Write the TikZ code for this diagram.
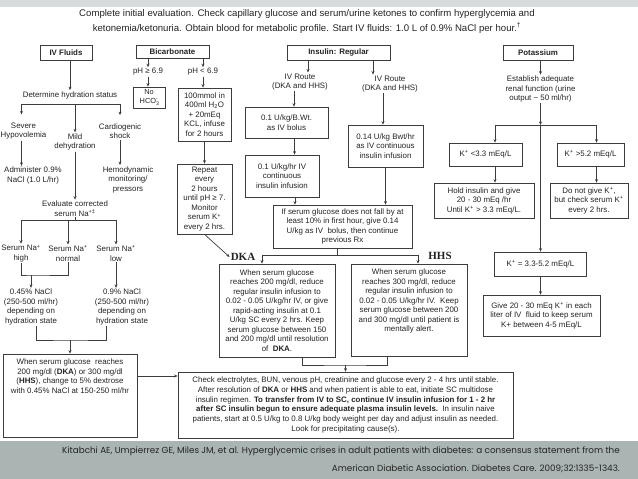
\documentclass[tikz,border=0pt]{standalone}
\usepackage{fontspec}
\setmainfont{Liberation Sans}
\newfontfamily\labfont{Liberation Serif}
\newfontfamily\citefont{Poppins}
\usetikzlibrary{arrows.meta, positioning}
\definecolor{linec}{RGB}{60,60,60}
\definecolor{bandc}{RGB}{170,181,179}
\definecolor{topc}{RGB}{214,220,219}
\definecolor{textc}{RGB}{35,35,35}

\begin{document}
\begin{tikzpicture}[x=1pt, y=-1pt,
    every node/.style={text=textc, font=\fontsize{7.9}{9.5}\selectfont, align=center, inner sep=1pt},
    box/.style={draw=linec, line width=0.7pt, inner sep=2pt},
    head/.style={box, font=\bfseries\fontsize{7.9}{9.5}\selectfont, minimum height=15pt},
    arr/.style={draw=linec, line width=0.7pt, -{Stealth[length=3.5pt, width=3pt]}},
    ln/.style={draw=linec, line width=0.7pt},
    lab/.style={font=\labfont\bfseries\fontsize{11}{12}\selectfont}]
        % background and page size
        \fill[topc] (0,0) rectangle (638,7);
        \fill[bandc] (0,441) rectangle (638,479);
        \useasboundingbox (0,0) rectangle (638,479);

        % title
        \node[font=\fontsize{9.6}{15}\selectfont] (title) at (307,21.5) {Complete initial evaluation. Check capillary glucose and serum/urine ketones to confirm hyperglycemia and\\ketonemia/ketonuria. Obtain blood for metabolic profile. Start IV fluids: 1.0 L of 0.9\% NaCl per hour.\textsuperscript{\dag}};

        % column heads
        \node[head, minimum width=52pt] (ivf) at (66,52.5) {IV Fluids};
        \node[head, minimum width=73pt, minimum height=13pt] (bicarb) at (172.5,51.5) {Bicarbonate};
        \node[head, minimum width=103pt] (insulin) at (338.5,52.5) {Insulin: Regular};
        \node[head, minimum width=70pt] (potas) at (538,53) {Potassium};

        % IV fluids column
        \node (hydr) at (70,95) {Determine hydration status};
        \node (severe) at (23.5,131) {Severe\\Hypovolemia};
        \node (mild) at (75,142) {Mild\\dehydration};
        \node (cardio) at (120,131) {Cardiogenic\\shock};
        \node (admin) at (33,175.5) {Administer 0.9\%\\NaCl (1.0 L/hr)};
        \node (hemo) at (128,179.5) {Hemodynamic\\monitoring/\\pressors};
        \node (evalna) at (75,208.5) {Evaluate corrected\\serum Na\textsuperscript{+\ddag}};
        \node (nahigh) at (21,253.5) {Serum Na\textsuperscript{+}\\high};
        \node (nanorm) at (68,253.5) {Serum Na\textsuperscript{+}\\normal};
        \node (nalow) at (116,253.5) {Serum Na\textsuperscript{+}\\low};
        \node (nacl45) at (31,307) {0.45\% NaCl\\(250-500 ml/hr)\\depending on\\hydration state};
        \node (nacl9) at (122,307) {0.9\% NaCl\\(250-500 ml/hr)\\depending on\\hydration state};
        \node[box, minimum width=134pt, minimum height=83pt, inner sep=0pt] (dex) at (70,395.5) {\parbox[t][79pt][t]{130pt}{\centering\vspace*{3pt}When serum glucose\ \ reaches\\200 mg/dl (\textbf{DKA}) or 300 mg/dl\\(\textbf{HHS}), change to 5\% dextrose\\with 0.45\% NaCl at 150-250 ml/hr}};

        % bicarbonate column
        \node (ph1) at (148,72) {pH ≥ 6.9};
        \node (ph2) at (203,72) {pH < 6.9};
        \node[box, minimum width=32pt, minimum height=21pt, inner sep=0pt, font=\fontsize{7.4}{9}\selectfont] (nohco) at (149,97.5) {No\\HCO\rlap{\textsubscript{3}}\textsuperscript{-}};
        \node[box, minimum width=53pt, minimum height=53pt] (kcl) at (204.5,114.5) {100mmol in\\400ml H\textsubscript{2}O\\+ 20mEq\\KCL, infuse\\for 2 hours};
        \node[box, minimum width=55pt, minimum height=70pt] (repeat) at (204.5,199) {Repeat\\every\\2 hours\\until pH ≥ 7.\\Monitor\\serum K\textsuperscript{+}\\every 2 hrs.};

        % insulin column
        \node (route1) at (300,82) {IV Route\\(DKA and HHS)};
        \node (route2) at (390,84) {IV Route\\(DKA and HHS)};
        \node[box, minimum width=83pt, minimum height=31pt] (bolus) at (286.5,122.5) {0.1 U/kg/B.Wt.\\as IV bolus};
        \node[box, minimum width=74pt, minimum height=42pt] (cont) at (282,176) {0.1 U/kg/hr IV\\continuous\\insulin infusion};
        \node[box, minimum width=75pt, minimum height=42pt] (bwt) at (385.5,146) {0.14 U/kg Bwt/hr\\as IV continuous\\insulin infusion};
        \node[box, minimum width=139pt, minimum height=43pt] (ifbox) at (342.5,226.5) {If serum glucose does not fall by at\\least 10\% in first hour, give 0.14\\U/kg as IV\ \ bolus, then continue\\previous Rx};
        \node[lab] (dkal) at (243,257) {DKA};
        \node[lab] (hhsl) at (440,256) {HHS};
        \node[box, minimum width=116pt, minimum height=93pt] (dka) at (277,310.5) {When serum glucose\\reaches 200 mg/dl, reduce\\regular insulin infusion to\\0.02 - 0.05 U/kg/hr IV, or give\\rapid-acting insulin at 0.1\\U/kg SC every 2 hrs. Keep\\serum glucose between 150\\and 200 mg/dl until resolution\\of\ \ \textbf{DKA}.};
        \node[box, minimum width=116pt, minimum height=92pt, inner sep=0pt] (hhs) at (409,310) {\parbox[t][88pt][t]{112pt}{\centering\vspace*{3pt}When serum glucose\\reaches 300 mg/dl, reduce\\regular insulin infusion to\\0.02 - 0.05 U/kg/hr IV.\ \ Keep\\serum glucose between 200\\and 300 mg/dl until patient is\\mentally alert.}};
        \node[box, minimum width=335pt, minimum height=66pt, font=\fontsize{7.9}{9.7}\selectfont] (chk) at (345.5,405) {Check electrolytes, BUN, venous pH, creatinine and glucose every 2 - 4 hrs until stable.\\After resolution of \textbf{DKA} or \textbf{HHS} and when patient is able to eat, initiate SC multidose\\insulin regimen. \textbf{To transfer from IV to SC, continue IV insulin infusion for 1 - 2 hr}\\\textbf{after SC insulin begun to ensure adequate plasma insulin levels.}\ \ In insulin naive\\patients, start at 0.5 U/kg to 0.8 U/kg body weight per day and adjust insulin as needed.\\Look for precipitating cause(s).};

        % potassium column
        \node (renal) at (540.5,89) {Establish adequate\\renal function (urine\\output \textasciitilde\ 50 ml/hr)};
        \node[box, minimum width=73pt, minimum height=23pt] (klow) at (485.5,154.5) {K\textsuperscript{+} <3.3 mEq/L};
        \node[box, minimum width=67pt, minimum height=23pt] (khigh) at (590.5,154.5) {K\textsuperscript{+} >5.2 mEq/L};
        \node[box, minimum width=100pt, minimum height=35pt] (hold) at (484,200.5) {Hold insulin and give\\20 - 30 mEq /hr\\Until K\textsuperscript{+} > 3.3 mEq/L.};
        \node[box, minimum width=78pt, minimum height=35pt] (donot) at (589,200.5) {Do not give K\textsuperscript{+},\\but check serum K\textsuperscript{+}\\every 2 hrs.};
        \node[box, minimum width=92pt, minimum height=24pt] (kmid) at (540.5,264) {K\textsuperscript{+} = 3.3-5.2 mEq/L};
        \node[box, minimum width=117pt, minimum height=41pt] (give) at (541.5,315.5) {Give 20 - 30 mEq K\textsuperscript{+} in each\\liter of IV\ \ fluid to keep serum\\K+ between 4-5 mEq/L};

        % reference
        \node[anchor=north east, align=right, font=\citefont\fontsize{8.8}{18}\selectfont] (cite) at (621,446) {Kitabchi AE, Umpierrez GE, Miles JM, et al. Hyperglycemic crises in adult patients with diabetes: a consensus statement from the\\American Diabetic Association. Diabetes Care. 2009;32:1335-1343.};

        % IV fluids connectors
        \draw[arr] (hydr.north |- ivf.south) -- (hydr.north);
        \coordinate (hj) at (mild.north |- 0,104);
        \draw[arr, shorten >=7pt] (hj) -| ([xshift=-2]severe.north);
        \draw[arr, shorten >=7pt] (hj) -| (cardio.north);
        \draw[arr] (hj) -- (mild.north);
        \draw[arr] ([xshift=-2]severe.south) -- ([xshift=-2]severe.south |- admin.north);
        \draw[arr] (mild.south) -- (mild.south |- evalna.north);
        \draw[arr] (cardio.south) -- (cardio.south |- hemo.north);
        \coordinate (nj) at (evalna.south |- 0,220);
        \draw[ln] (evalna.south) -- (nj);
        \draw[arr] (nj) -| (nahigh.north);
        \draw[arr] (nj) -| (nanorm.north);
        \draw[arr] (nj) -| (nalow.north);
        \coordinate (hn) at (nacl45.north |- 0,275);
        \draw[ln] (nahigh.south) |- (hn) -| (nanorm.south);
        \draw[arr] (hn) -- (nacl45.north);
        \draw[arr] (nalow.south) -- (nalow.south |- nacl9.north);
        \coordinate (dj) at (dex.north |- 0,340);
        \draw[ln] ([xshift=5]nacl45.south) |- (dj) -| ([xshift=-16]nacl9.south);
        \draw[arr] (dj) -- (dex.north);
        \coordinate (dexo) at ([yshift=19.5]dex.east);
        \draw[arr] (dexo) -- (dexo -| chk.west);

        % bicarbonate connectors
        \draw[arr] (ph1.north |- bicarb.south) -- (ph1.north);
        \draw[arr] (ph2.north |- bicarb.south) -- (ph2.north);
        \draw[arr] (ph1.south) -- (ph1.south |- nohco.north);
        \draw[arr] (ph2.south) -- (ph2.south |- kcl.north);
        \draw[arr] (kcl.south) -- (kcl.south |- repeat.north);
        \draw[arr] (repeat.south) -- (dkal.west);

        % insulin connectors
        \coordinate (r1) at ([xshift=8]route1.north);
        \draw[arr] (r1 |- insulin.south) -- (r1);
        \coordinate (r2) at ([xshift=-17]route2.north);
        \draw[arr] (r2 |- insulin.south) -- (r2);
        \coordinate (r1b) at ([xshift=-6]route1.south);
        \draw[arr] (r1b) -- (r1b |- bolus.north);
        \coordinate (b1) at ([xshift=8]bolus.south);
        \draw[arr] (b1) -- (b1 |- cont.north);
        \coordinate (c1) at ([xshift=13]cont.south);
        \draw[arr] (c1) -- (c1 |- ifbox.north);
        \coordinate (r2b) at ([xshift=-7]route2.south);
        \draw[arr] (r2b) -- (r2b |- bwt.north);
        \draw[arr] (bwt.south) -- (bwt.south |- ifbox.north);
        \coordinate (ij) at (337,255);
        \draw[ln] (ij |- ifbox.south) -- (ij);
        \draw[arr] (ij) -| ([xshift=-15]dka.north);
        \draw[arr] (ij) -| ([xshift=9]hhs.north);
        \coordinate (cj) at (chk.north |- 0,365);
        \draw[ln] ([xshift=25]dka.south) |- (cj) -| ([xshift=-22]hhs.south);
        \draw[arr] (cj) -- (chk.north);

        % potassium connectors
        \draw[arr] (renal.north |- potas.south) -- (renal.north);
        \coordinate (kj) at (kmid.north |- 0,125);
        \draw[arr] (renal.south) -- (kj);
        \draw[arr] (kj) -- (kmid.north);
        \draw[arr] (kj) -| ([xshift=9.5]klow.north);
        \draw[arr] (kj) -| ([xshift=6]khigh.north);
        \coordinate (kl) at ([xshift=9.5]klow.south);
        \draw[arr] (kl) -- (kl |- hold.north);
        \coordinate (kh) at ([xshift=6]khigh.south);
        \draw[arr] (kh) -- (kh |- donot.north);
        \draw[arr] (kmid.south) -- (kmid.south |- give.north);
\end{tikzpicture}
\end{document}
